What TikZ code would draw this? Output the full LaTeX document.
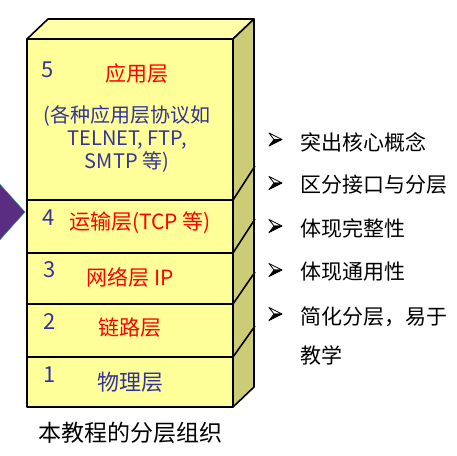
\documentclass[tikz,border=0pt]{standalone}
\usepackage{fontspec}
\setmainfont{Noto Sans CJK SC}
\usepackage{tikz}

\definecolor{front}{HTML}{FFFF99}
\definecolor{topface}{HTML}{FFFFAA}
\definecolor{sideface}{HTML}{CCCC77}
\definecolor{numblue}{HTML}{333399}
\definecolor{arrowpurple}{HTML}{5B2D82}
\definecolor{edgeteal}{HTML}{2E9E8E}

\tikzset{
  box/.style={draw=black, line width=1.6pt, line join=round},
  num/.style={text=numblue, font=\fontsize{22}{24}\selectfont, inner sep=0pt},
  title/.style={text=red, font=\fontsize{21}{24}\selectfont, inner sep=0pt},
  detail/.style={text=numblue, font=\fontsize{20}{23}\selectfont, align=center, inner sep=0pt},
  item/.style={anchor=west, font=\fontsize{21}{24}\selectfont, inner sep=0pt},
  tipmark/.pic={
    \filldraw[fill=white, draw=black, line width=0.8pt, line join=round] (-6.5,-6.5) -- (6.5,0) -- (-1.5,0) -- cycle ;
    \filldraw[fill=black, draw=black, line width=0.8pt, line join=round] (-1.5,0) -- (6.5,0) -- (-6.5,6.5) -- cycle ;
  }
}

\begin{document}
\begin{tikzpicture}[x=1pt, y=-1pt]
  \useasboundingbox (0,0) rectangle (457,455) ;
  % purple arrow on the left
  \fill[arrowpurple, draw=edgeteal, line width=0.5pt] (-2,182) -- (25,212) -- (-2,242) -- cycle ;
  % the box
  \filldraw[box, fill=topface] (27,39) -- (48,19) -- (254,19) -- (233,39) -- cycle ;
  \filldraw[box, fill=sideface] (233,39) -- (254,19) -- (254,387) -- (233,407) -- cycle ;
  \filldraw[box, fill=front] (27,39) rectangle (233,200) ;
  \filldraw[box, fill=front] (27,200) rectangle (233,253) ;
  \filldraw[box, fill=front] (27,253) rectangle (233,304) ;
  \filldraw[box, fill=front] (27,304) rectangle (233,357) ;
  \filldraw[box, fill=front] (27,357) rectangle (233,407) ;
  \draw[box] (233,200) -- (255,166) ;
  \draw[box] (233,253) -- (255,219) ;
  \draw[box] (233,304) -- (255,272) ;
  \draw[box] (233,357) -- (255,326) ;
  % layers
  \node[num] (n5) at (48,70) {5} ;
  \node[title] (t5) at (137,74) {应用层} ;
  \node[detail] (d5) at (127,139) {(各种应用层协议如\\TELNET, FTP,\\SMTP 等)} ;
  \node[num] (n4) at (49,218) {4} ;
  \node[title] (t4) at (140,223) {运输层(TCP 等)} ;
  \node[num] (n3) at (50,270) {3} ;
  \node[title] (t3) at (130,277) {网络层 IP} ;
  \node[num] (n2) at (50,322) {2} ;
  \node[title] (t2) at (130,328) {链路层} ;
  \node[num] (n1) at (50,375) {1} ;
  \node[num] (t1) at (130,382) {物理层} ;
  \node[font=\fontsize{23}{26}\selectfont, inner sep=0pt] (cap) at (130,433) {本教程的分层组织} ;
  % points on the right
  \pic at (275.5,139.5) {tipmark} ;
  \node[item] (p1) at (300,142) {突出核心概念} ;
  \pic at (275.5,183) {tipmark} ;
  \node[item] (p2) at (300,185) {区分接口与分层} ;
  \pic at (275.5,226) {tipmark} ;
  \node[item] (p3) at (300,228) {体现完整性} ;
  \pic at (275.5,270) {tipmark} ;
  \node[item] (p4) at (300,272) {体现通用性} ;
  \pic at (275.5,314) {tipmark} ;
  \node[item] (p5) at (300,317) {简化分层，易于} ;
  \node[item] (p6) at (300,355) {教学} ;
\end{tikzpicture}
\end{document}
